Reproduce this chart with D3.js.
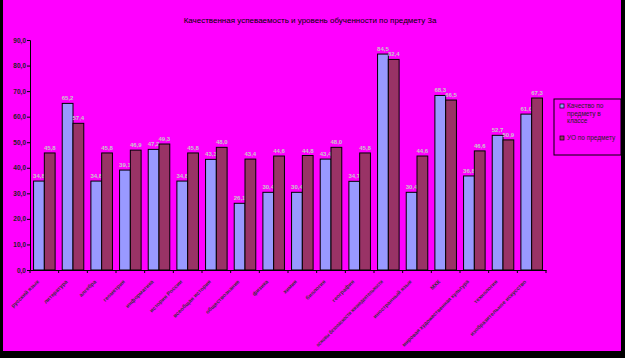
<!DOCTYPE html>
<html><head><meta charset="utf-8">
<script src="https://cdn.jsdelivr.net/npm/d3@7/dist/d3.min.js"></script>
<style>body{margin:0;background:#000}svg{display:block}</style>
</head><body>
<script>
const title = "Качественная успеваемость и уровень обученности по предмету 3а";
const categories = ["русский язык","литература","алгебра","геометрия","информатика","история России","всеобщая история","обществознание","физика","химия","биология","география","основы безопасности жизнедеятельности","иностранный язык","МХК","мировая художественная культура","технология","изобразительное искусство"];
const seriesNames = ["Качество по предмету в классе","УО по предмету"];
const quality = [34.8,65.2,34.8,39.1,47.2,34.8,43.3,26.1,30.4,30.4,43.4,34.7,84.5,30.4,68.3,36.8,52.7,61.0];
const learning = [45.8,57.4,45.8,46.9,49.3,45.8,48.0,43.4,44.6,44.8,48.0,45.8,82.4,44.6,66.5,46.6,50.9,67.3];
const yTicks = [0,10,20,30,40,50,60,70,80,90];
const colors = ["#9999ff","#993366"];

const W=625,H=358;
const svg=d3.select("body").append("svg").attr("width",W).attr("height",H);
svg.append("rect").attr("x",3).attr("y",0).attr("width",618).attr("height",351).attr("fill","#ff00ff");

const x0=30,x1=546,yTop=40,yBot=270;
const x=d3.scaleBand().domain(categories).range([x0,x1]).paddingInner(0).paddingOuter(0);
const xs=d3.scaleBand().domain([0,1]).range([0,x.bandwidth()]).paddingOuter(0.33).paddingInner(0);
const y=d3.scaleLinear().domain([0,90]).range([yBot,yTop]);

svg.append("text").attr("x",310).attr("y",23).attr("text-anchor","middle")
  .attr("font-family","Liberation Sans, Arial").attr("font-size",8).attr("fill","#000").text(title);

const ya=svg.append("g").attr("transform",`translate(${x0},0)`)
  .call(d3.axisLeft(y).tickValues(yTicks).tickSize(3).tickFormat(d=>d.toFixed(1).replace(".",",")));
ya.select(".domain").attr("stroke","#000");
ya.selectAll("line").attr("stroke","#000");
ya.selectAll("text").attr("font-family","Liberation Sans, Arial").attr("font-size",6.5).attr("font-weight","bold").attr("fill","#222").attr("x",-4);

const series=[quality,learning];
series.forEach((vals,s)=>{
  svg.append("g").selectAll("rect").data(vals).join("rect")
    .attr("x",(d,i)=>x(categories[i])+xs(s))
    .attr("y",d=>y(d)).attr("width",xs.bandwidth()).attr("height",d=>yBot-y(d))
    .attr("fill",colors[s]).attr("stroke","#000").attr("stroke-width",1);
  svg.append("g").selectAll("text").data(vals).join("text")
    .attr("x",(d,i)=>x(categories[i])+xs(s)+xs.bandwidth()/2)
    .attr("y",d=>y(d)-3).attr("text-anchor","middle")
    .attr("font-family","Liberation Sans, Arial").attr("font-size",6).attr("font-weight","bold")
    .attr("fill","#c8c8c8").text(d=>d.toFixed(1).replace(".",","));
});

const xa=svg.append("g").attr("transform",`translate(0,${yBot})`)
  .call(d3.axisBottom(x).tickSize(0).tickFormat(""));
xa.select(".domain").attr("stroke","#000");
svg.append("g").selectAll("line").data(d3.range(categories.length+1)).join("line")
  .attr("x1",i=>x0+i*x.step()).attr("x2",i=>x0+i*x.step()).attr("y1",yBot).attr("y2",yBot+3).attr("stroke","#000");

svg.append("g").selectAll("text").data(categories).join("text")
  .attr("transform",d=>`translate(${x(d)+x.bandwidth()/2-5},${yBot+12}) rotate(-45)`)
  .attr("text-anchor","end").attr("font-family","Liberation Sans, Arial").attr("font-size",5.5)
  .attr("font-weight","bold").attr("fill","#333").text(d=>d)
  .each(function(){ const L=this.getComputedTextLength(); if(L>92){ d3.select(this).attr("textLength",92).attr("lengthAdjust","spacingAndGlyphs"); } });

const lg=svg.append("g");
lg.append("rect").attr("x",554).attr("y",99).attr("width",67).attr("height",56).attr("fill","none").attr("stroke","#000").attr("stroke-width",1);
const legItems=[{lines:["Качество по","предмету в","классе"],y:108},{lines:["УО по предмету"],y:140}];
legItems.forEach((it,s)=>{
  lg.append("rect").attr("x",560).attr("y",it.y-4).attr("width",4).attr("height",4).attr("fill",colors[s]).attr("stroke","#000").attr("stroke-width",0.7);
  it.lines.forEach((t,j)=>{
    lg.append("text").attr("x",567).attr("y",it.y+j*7.5).attr("font-family","Liberation Sans, Arial").attr("font-size",6.5).attr("fill","#222").text(t);
  });
});
</script>
</body></html>
